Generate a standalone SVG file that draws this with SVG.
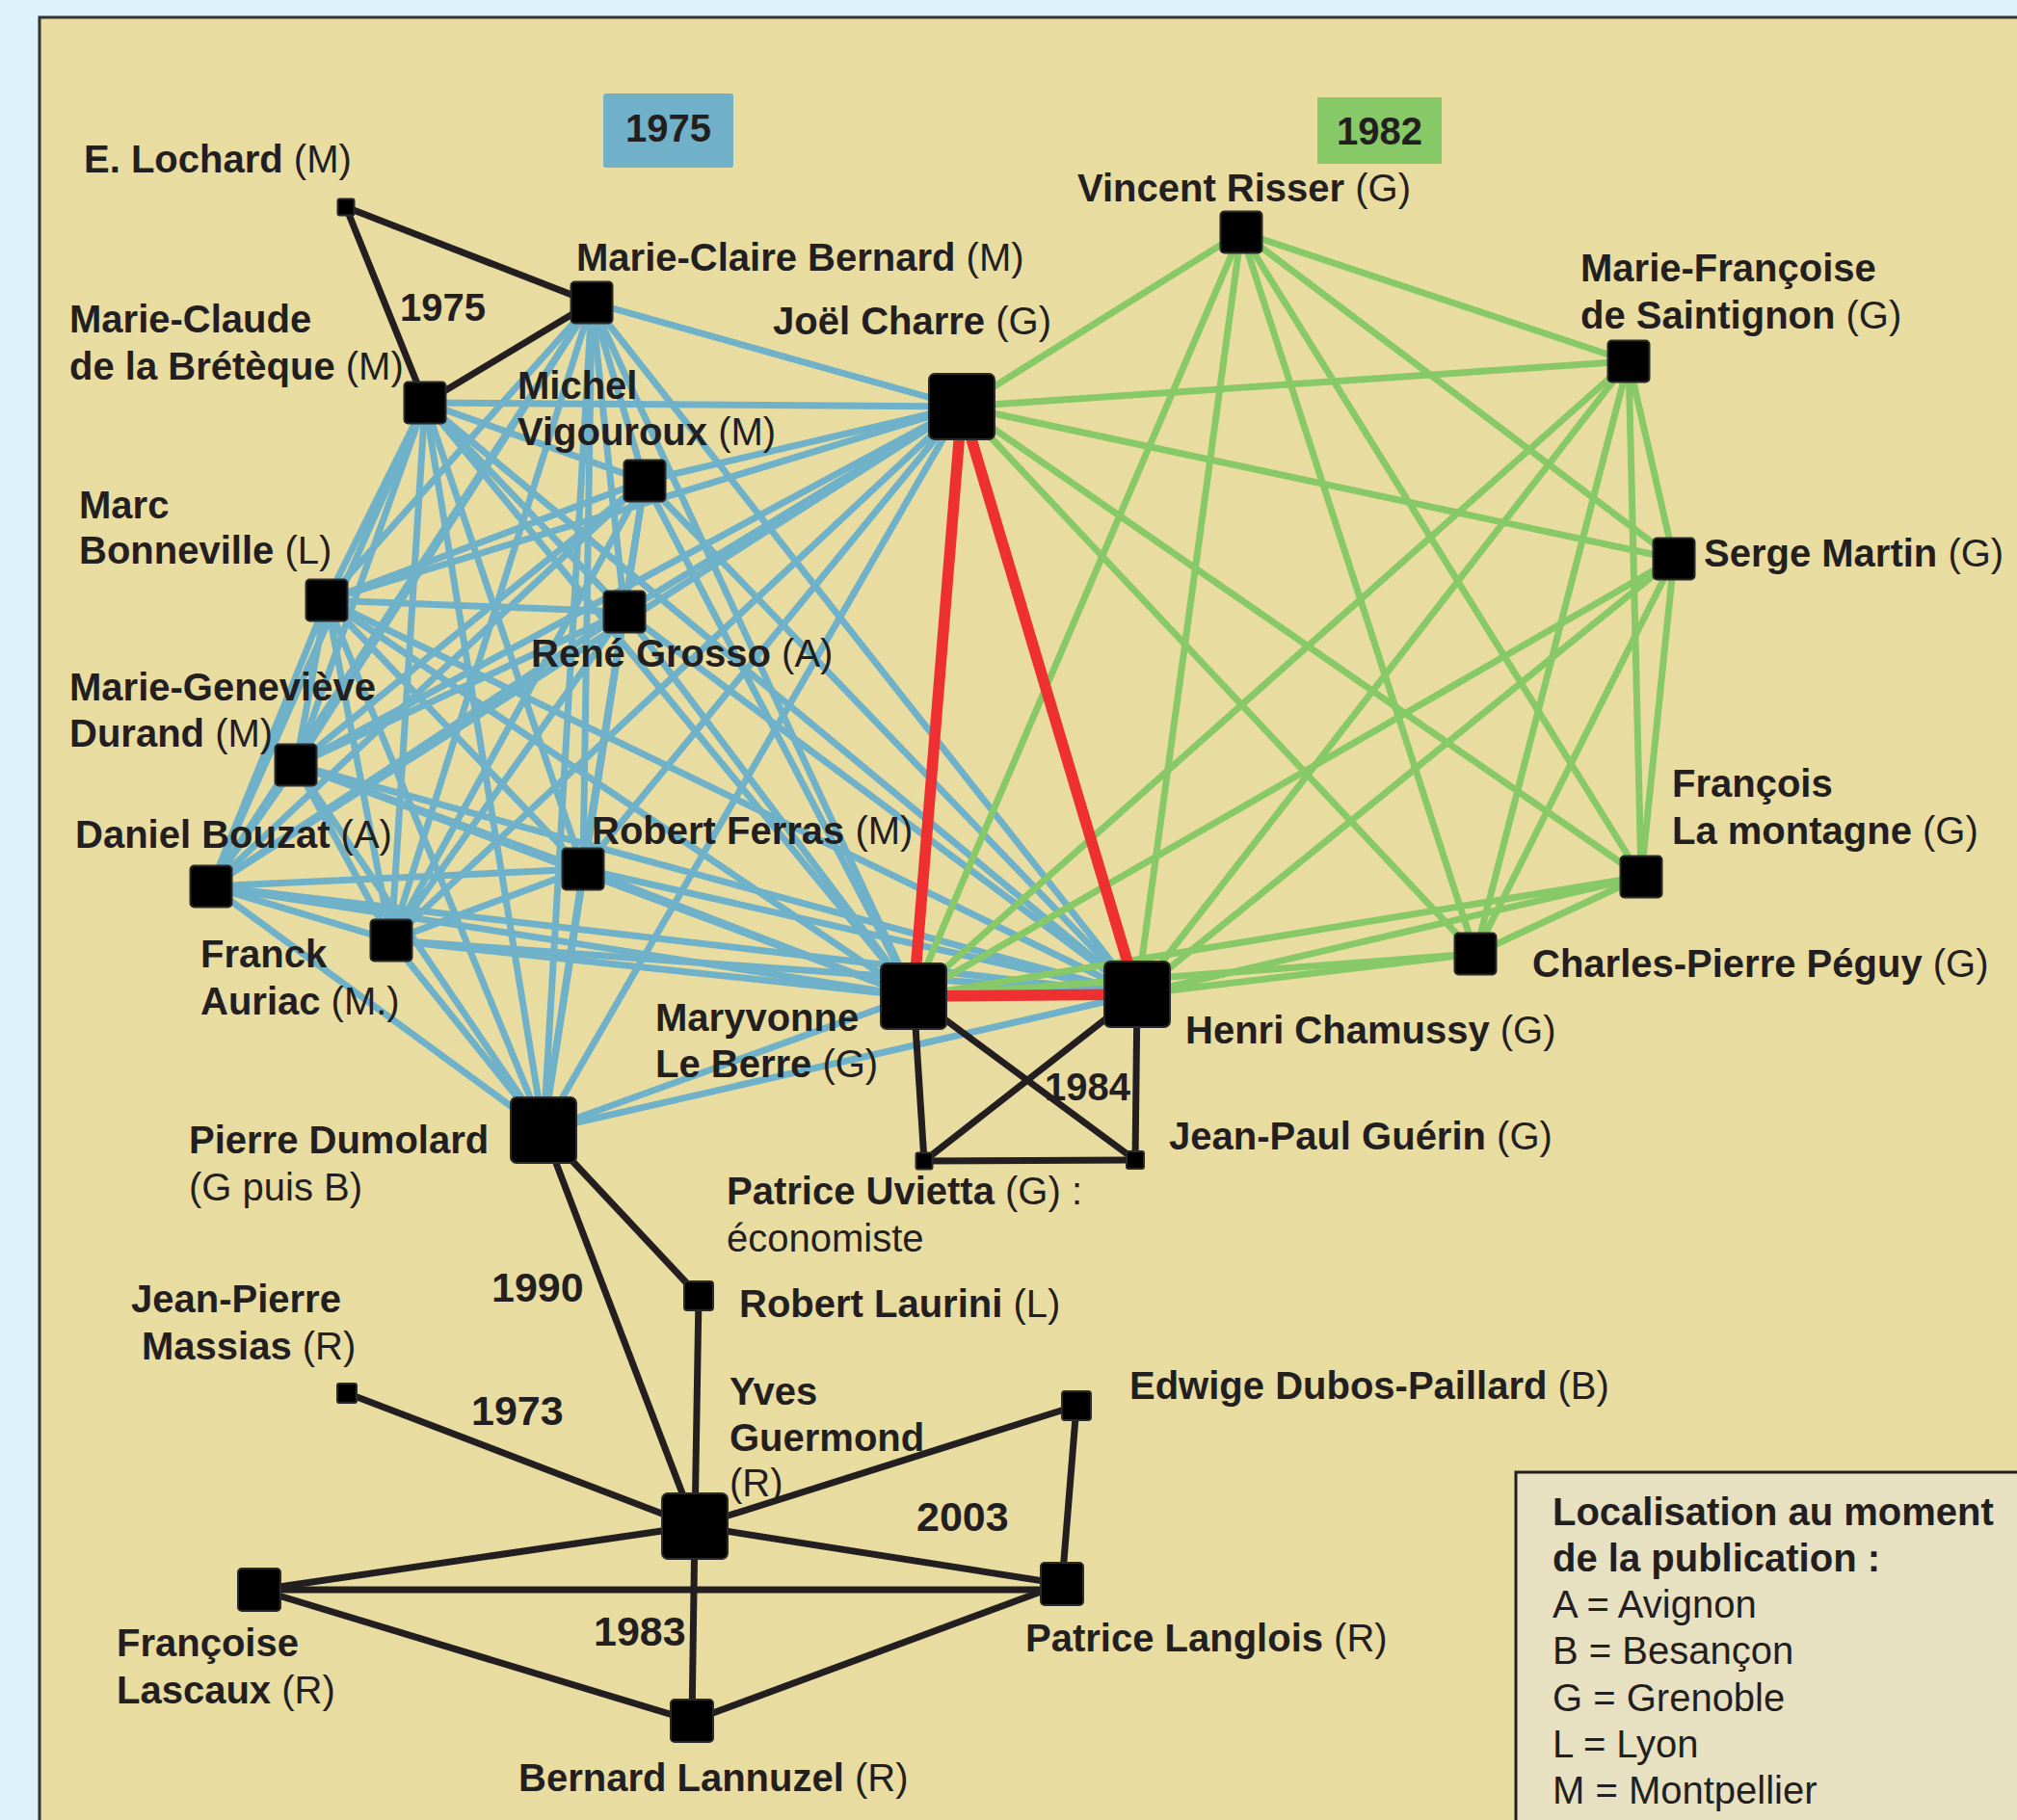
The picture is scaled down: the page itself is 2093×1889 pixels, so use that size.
<svg xmlns="http://www.w3.org/2000/svg" width="2093" height="1889" viewBox="0 0 2093 1889">
<style>
.b{stroke:#6fb1c9;stroke-width:7;fill:none}
.g{stroke:#87c867;stroke-width:7;fill:none}
.r{stroke:#ee3030;stroke-width:11.5;fill:none}
.k{stroke:#231f20;stroke-width:7;fill:none}
.n rect{fill:#000;stroke:#2a2a2a;stroke-width:2}
text{font-family:"Liberation Sans",Arial,sans-serif;font-size:40px;fill:#231f20;font-weight:bold}
.rg{font-weight:normal}
.lg{font-weight:normal}
.yr{font-size:43px}
</style>
<rect x="0" y="0" width="2093" height="1889" fill="#dcf1f8"/>
<rect x="41" y="18" width="2070" height="1900" fill="#e9dca0" stroke="#333" stroke-width="3"/>
<rect x="626" y="97" width="135" height="77" rx="3" fill="#70b0c8"/>
<text x="693.5" y="147" text-anchor="middle" font-size="40">1975</text>
<rect x="1367" y="101" width="129" height="69" fill="#87c867"/>
<text x="1431.5" y="150" text-anchor="middle" font-size="40">1982</text>

<g id="connectors">
<g id="edges-1975-blue" class="b">
<line x1="614" y1="314" x2="669" y2="499"/>
<line x1="614" y1="314" x2="339" y2="623"/>
<line x1="614" y1="314" x2="648" y2="635"/>
<line x1="614" y1="314" x2="307" y2="794"/>
<line x1="614" y1="314" x2="219" y2="920"/>
<line x1="614" y1="314" x2="605" y2="902"/>
<line x1="614" y1="314" x2="406" y2="976"/>
<line x1="614" y1="314" x2="998" y2="422"/>
<line x1="614" y1="314" x2="948" y2="1034"/>
<line x1="614" y1="314" x2="1180" y2="1032"/>
<line x1="614" y1="314" x2="564" y2="1173"/>
<line x1="441" y1="418" x2="669" y2="499"/>
<line x1="441" y1="418" x2="339" y2="623"/>
<line x1="441" y1="418" x2="648" y2="635"/>
<line x1="441" y1="418" x2="307" y2="794"/>
<line x1="441" y1="418" x2="219" y2="920"/>
<line x1="441" y1="418" x2="605" y2="902"/>
<line x1="441" y1="418" x2="406" y2="976"/>
<line x1="441" y1="418" x2="998" y2="422"/>
<line x1="441" y1="418" x2="948" y2="1034"/>
<line x1="441" y1="418" x2="1180" y2="1032"/>
<line x1="441" y1="418" x2="564" y2="1173"/>
<line x1="669" y1="499" x2="339" y2="623"/>
<line x1="669" y1="499" x2="648" y2="635"/>
<line x1="669" y1="499" x2="307" y2="794"/>
<line x1="669" y1="499" x2="219" y2="920"/>
<line x1="669" y1="499" x2="605" y2="902"/>
<line x1="669" y1="499" x2="406" y2="976"/>
<line x1="669" y1="499" x2="998" y2="422"/>
<line x1="669" y1="499" x2="948" y2="1034"/>
<line x1="669" y1="499" x2="1180" y2="1032"/>
<line x1="669" y1="499" x2="564" y2="1173"/>
<line x1="339" y1="623" x2="648" y2="635"/>
<line x1="339" y1="623" x2="307" y2="794"/>
<line x1="339" y1="623" x2="219" y2="920"/>
<line x1="339" y1="623" x2="605" y2="902"/>
<line x1="339" y1="623" x2="406" y2="976"/>
<line x1="339" y1="623" x2="998" y2="422"/>
<line x1="339" y1="623" x2="948" y2="1034"/>
<line x1="339" y1="623" x2="1180" y2="1032"/>
<line x1="339" y1="623" x2="564" y2="1173"/>
<line x1="648" y1="635" x2="307" y2="794"/>
<line x1="648" y1="635" x2="219" y2="920"/>
<line x1="648" y1="635" x2="605" y2="902"/>
<line x1="648" y1="635" x2="406" y2="976"/>
<line x1="648" y1="635" x2="998" y2="422"/>
<line x1="648" y1="635" x2="948" y2="1034"/>
<line x1="648" y1="635" x2="1180" y2="1032"/>
<line x1="648" y1="635" x2="564" y2="1173"/>
<line x1="307" y1="794" x2="219" y2="920"/>
<line x1="307" y1="794" x2="605" y2="902"/>
<line x1="307" y1="794" x2="406" y2="976"/>
<line x1="307" y1="794" x2="998" y2="422"/>
<line x1="307" y1="794" x2="948" y2="1034"/>
<line x1="307" y1="794" x2="1180" y2="1032"/>
<line x1="307" y1="794" x2="564" y2="1173"/>
<line x1="219" y1="920" x2="605" y2="902"/>
<line x1="219" y1="920" x2="406" y2="976"/>
<line x1="219" y1="920" x2="998" y2="422"/>
<line x1="219" y1="920" x2="948" y2="1034"/>
<line x1="219" y1="920" x2="1180" y2="1032"/>
<line x1="219" y1="920" x2="564" y2="1173"/>
<line x1="605" y1="902" x2="406" y2="976"/>
<line x1="605" y1="902" x2="998" y2="422"/>
<line x1="605" y1="902" x2="948" y2="1034"/>
<line x1="605" y1="902" x2="1180" y2="1032"/>
<line x1="605" y1="902" x2="564" y2="1173"/>
<line x1="406" y1="976" x2="998" y2="422"/>
<line x1="406" y1="976" x2="948" y2="1034"/>
<line x1="406" y1="976" x2="1180" y2="1032"/>
<line x1="406" y1="976" x2="564" y2="1173"/>
<line x1="998" y1="422" x2="564" y2="1173"/>
<line x1="948" y1="1034" x2="564" y2="1173"/>
<line x1="1180" y1="1032" x2="564" y2="1173"/>
</g>
<g id="edges-1982-green" class="g">
<line x1="1288" y1="241" x2="998" y2="422"/>
<line x1="1288" y1="241" x2="1690" y2="375"/>
<line x1="1288" y1="241" x2="1737" y2="580"/>
<line x1="1288" y1="241" x2="1703" y2="910"/>
<line x1="1288" y1="241" x2="1531" y2="990"/>
<line x1="1288" y1="241" x2="1180" y2="1032"/>
<line x1="1288" y1="241" x2="948" y2="1034"/>
<line x1="1690" y1="375" x2="998" y2="422"/>
<line x1="1690" y1="375" x2="1737" y2="580"/>
<line x1="1690" y1="375" x2="1703" y2="910"/>
<line x1="1690" y1="375" x2="1531" y2="990"/>
<line x1="1690" y1="375" x2="1180" y2="1032"/>
<line x1="1690" y1="375" x2="948" y2="1034"/>
<line x1="1737" y1="580" x2="998" y2="422"/>
<line x1="1737" y1="580" x2="1703" y2="910"/>
<line x1="1737" y1="580" x2="1531" y2="990"/>
<line x1="1737" y1="580" x2="1180" y2="1032"/>
<line x1="1737" y1="580" x2="948" y2="1034"/>
<line x1="1703" y1="910" x2="998" y2="422"/>
<line x1="1703" y1="910" x2="1531" y2="990"/>
<line x1="1703" y1="910" x2="1180" y2="1032"/>
<line x1="1703" y1="910" x2="948" y2="1034"/>
<line x1="1531" y1="990" x2="998" y2="422"/>
<line x1="1531" y1="990" x2="1180" y2="1032"/>
<line x1="1531" y1="990" x2="948" y2="1034"/>
</g>
<g id="edges-red" class="r">
<line x1="998" y1="422" x2="948" y2="1034"/>
<line x1="998" y1="422" x2="1180" y2="1032"/>
<line x1="948" y1="1034" x2="1180" y2="1032"/>
</g>
<g id="edges-black" class="k">
<line x1="359" y1="215" x2="614" y2="314"/>
<line x1="359" y1="215" x2="441" y2="418"/>
<line x1="614" y1="314" x2="441" y2="418"/>
<line x1="948" y1="1034" x2="959" y2="1205"/>
<line x1="948" y1="1034" x2="1178" y2="1204"/>
<line x1="1180" y1="1032" x2="959" y2="1205"/>
<line x1="1180" y1="1032" x2="1178" y2="1204"/>
<line x1="959" y1="1205" x2="1178" y2="1204"/>
<line x1="564" y1="1173" x2="725" y2="1345"/>
<line x1="564" y1="1173" x2="721" y2="1584"/>
<line x1="725" y1="1345" x2="721" y2="1584"/>
<line x1="360" y1="1446" x2="721" y2="1584"/>
<line x1="721" y1="1584" x2="1117" y2="1459"/>
<line x1="1117" y1="1459" x2="1102" y2="1644"/>
<line x1="721" y1="1584" x2="1102" y2="1644"/>
<line x1="721" y1="1584" x2="269" y2="1650"/>
<line x1="269" y1="1650" x2="1102" y2="1650"/>
<line x1="269" y1="1650" x2="718" y2="1786"/>
<line x1="721" y1="1584" x2="718" y2="1786"/>
<line x1="718" y1="1786" x2="1102" y2="1644"/>
</g>
</g>

<g id="nodes" class="n">
<g id="n-lochard"><rect x="350.5" y="206.5" width="17" height="17" rx="2"/></g>
<g id="n-mcbernard"><rect x="592.5" y="292.5" width="43" height="43" rx="4"/></g>
<g id="n-mcbreteque"><rect x="419.5" y="396.5" width="43" height="43" rx="4"/></g>
<g id="n-vigouroux"><rect x="647.5" y="477.5" width="43" height="43" rx="4"/></g>
<g id="n-bonneville"><rect x="317.5" y="601.5" width="43" height="43" rx="4"/></g>
<g id="n-grosso"><rect x="626.5" y="613.5" width="43" height="43" rx="4"/></g>
<g id="n-durand"><rect x="285.5" y="772.5" width="43" height="43" rx="4"/></g>
<g id="n-bouzat"><rect x="197.5" y="898.5" width="43" height="43" rx="4"/></g>
<g id="n-ferras"><rect x="583.5" y="880.5" width="43" height="43" rx="4"/></g>
<g id="n-auriac"><rect x="384.5" y="954.5" width="43" height="43" rx="4"/></g>
<g id="n-charre"><rect x="964" y="388" width="68" height="68" rx="6"/></g>
<g id="n-leberre"><rect x="914" y="1000" width="68" height="68" rx="6"/></g>
<g id="n-chamussy"><rect x="1146" y="998" width="68" height="68" rx="6"/></g>
<g id="n-dumolard"><rect x="530" y="1139" width="68" height="68" rx="6"/></g>
<g id="n-risser"><rect x="1266.5" y="219.5" width="43" height="43" rx="4"/></g>
<g id="n-saintignon"><rect x="1668.5" y="353.5" width="43" height="43" rx="4"/></g>
<g id="n-martin"><rect x="1715.5" y="558.5" width="43" height="43" rx="4"/></g>
<g id="n-lamontagne"><rect x="1681.5" y="888.5" width="43" height="43" rx="4"/></g>
<g id="n-peguy"><rect x="1509.5" y="968.5" width="43" height="43" rx="4"/></g>
<g id="n-guerin"><rect x="1169" y="1195" width="18" height="18" rx="2"/></g>
<g id="n-uvietta"><rect x="950.5" y="1196.5" width="17" height="17" rx="2"/></g>
<g id="n-laurini"><rect x="710" y="1330" width="30" height="30" rx="3"/></g>
<g id="n-massias"><rect x="350" y="1436" width="20" height="20" rx="2"/></g>
<g id="n-guermond"><rect x="687" y="1550" width="68" height="68" rx="6"/></g>
<g id="n-dubos"><rect x="1102" y="1444" width="30" height="30" rx="3"/></g>
<g id="n-lascaux"><rect x="247" y="1628" width="44" height="44" rx="4"/></g>
<g id="n-langlois"><rect x="1080" y="1622" width="44" height="44" rx="4"/></g>
<g id="n-lannuzel"><rect x="696" y="1764" width="44" height="44" rx="4"/></g>
</g>

<g id="labels">
<text x="87" y="179">E. Lochard <tspan class="rg">(M)</tspan></text>
<text x="598" y="281">Marie-Claire Bernard <tspan class="rg">(M)</tspan></text>
<text x="72" y="345">Marie-Claude</text>
<text x="72" y="394">de la Brétèque <tspan class="rg">(M)</tspan></text>
<text x="415" y="333">1975</text>
<text x="802" y="347">Joël Charre <tspan class="rg">(G)</tspan></text>
<text x="537" y="414">Michel</text>
<text x="537" y="462">Vigouroux <tspan class="rg">(M)</tspan></text>
<text x="82" y="538">Marc</text>
<text x="82" y="585">Bonneville <tspan class="rg">(L)</tspan></text>
<text x="551" y="692">René Grosso <tspan class="rg">(A)</tspan></text>
<text x="72" y="727">Marie-Geneviève</text>
<text x="72" y="775">Durand <tspan class="rg">(M)</tspan></text>
<text x="78" y="880">Daniel Bouzat <tspan class="rg">(A)</tspan></text>
<text x="614" y="876">Robert Ferras <tspan class="rg">(M)</tspan></text>
<text x="208" y="1004">Franck</text>
<text x="208" y="1053">Auriac <tspan class="rg">(M.)</tspan></text>
<text x="680" y="1070">Maryvonne</text>
<text x="680" y="1118">Le Berre <tspan class="rg">(G)</tspan></text>
<text x="196" y="1197">Pierre Dumolard</text>
<text x="196" y="1246" class="rg">(G puis B)</text>
<text x="754" y="1250">Patrice Uvietta <tspan class="rg">(G) :</tspan></text>
<text x="754" y="1299" class="rg">économiste</text>
<text x="767" y="1367">Robert Laurini <tspan class="rg">(L)</tspan></text>
<text x="510" y="1351" class="yr">1990</text>
<text x="136" y="1362">Jean-Pierre</text>
<text x="147" y="1411">Massias <tspan class="rg">(R)</tspan></text>
<text x="489" y="1479" class="yr">1973</text>
<text x="757" y="1458">Yves</text>
<text x="757" y="1506">Guermond</text>
<text x="757" y="1553" class="rg">(R)</text>
<text x="951" y="1589" class="yr">2003</text>
<text x="616" y="1708" class="yr">1983</text>
<text x="121" y="1719">Françoise</text>
<text x="121" y="1768">Lascaux <tspan class="rg">(R)</tspan></text>
<text x="538" y="1859">Bernard Lannuzel <tspan class="rg">(R)</tspan></text>
<text x="1118" y="209">Vincent Risser <tspan class="rg">(G)</tspan></text>
<text x="1640" y="292">Marie-Françoise</text>
<text x="1640" y="341">de Saintignon <tspan class="rg">(G)</tspan></text>
<text x="1768" y="588">Serge Martin <tspan class="rg">(G)</tspan></text>
<text x="1735" y="827">François</text>
<text x="1735" y="876">La montagne <tspan class="rg">(G)</tspan></text>
<text x="1590" y="1014">Charles-Pierre Péguy <tspan class="rg">(G)</tspan></text>
<text x="1230" y="1083">Henri Chamussy <tspan class="rg">(G)</tspan></text>
<text x="1084" y="1142">1984</text>
<text x="1213" y="1193">Jean-Paul Guérin <tspan class="rg">(G)</tspan></text>
<text x="1172" y="1452">Edwige Dubos-Paillard <tspan class="rg">(B)</tspan></text>
<text x="1064" y="1714">Patrice Langlois <tspan class="rg">(R)</tspan></text>
</g>

<g id="legend">
<rect x="1573" y="1528" width="540" height="380" fill="#e8e1c1" stroke="#231f20" stroke-width="3"/>
<text x="1611" y="1583">Localisation au moment</text>
<text x="1611" y="1631">de la publication :</text>
<text x="1611" y="1679" class="lg">A = Avignon</text>
<text x="1611" y="1727" class="lg">B = Besançon</text>
<text x="1611" y="1776" class="lg">G = Grenoble</text>
<text x="1611" y="1824" class="lg">L = Lyon</text>
<text x="1611" y="1872" class="lg">M = Montpellier</text>
</g>
</svg>
